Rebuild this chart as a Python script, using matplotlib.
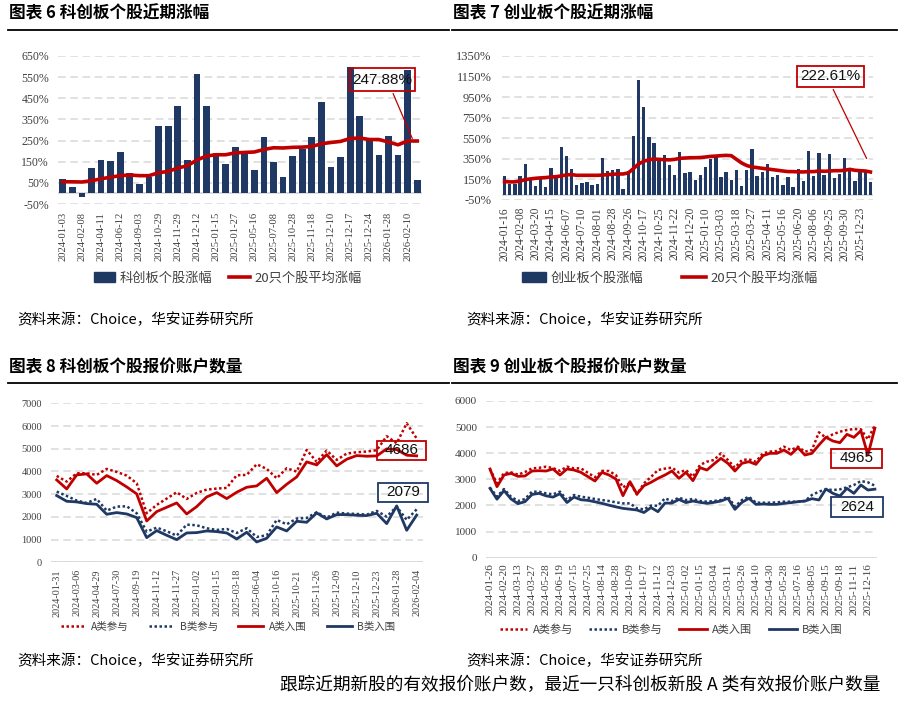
import matplotlib
matplotlib.use('Agg')
import matplotlib.pyplot as plt
from matplotlib.lines import Line2D
from matplotlib.patches import Patch, Rectangle

plt.rcParams['font.family'] = ['Noto Sans CJK SC', 'DejaVu Sans']

W, H = 901, 702
NAVY = '#1F3864'
RED = '#C00000'
GRID = '#D9D9D9'
TXT = '#404040'
SERIF = 'Liberation Serif'
SANS = 'Liberation Sans'

# ---- 图表6 科创板个股近期涨幅 (38 只，每2只一个标签)
kc_ticks = ['2024-01-03', '2024-02-08', '2024-04-11', '2024-06-12', '2024-09-03',
            '2024-10-29', '2024-11-29', '2024-12-12', '2025-01-15', '2025-01-27',
            '2025-05-16', '2025-07-08', '2025-10-28', '2025-11-18', '2025-12-10',
            '2025-12-17', '2025-12-24', '2026-01-28', '2026-02-10']
kc_gain = [66, 30, -15, 121, 159, 155, 196, 98, 44, 80, 317, 317, 413, 158, 566, 415,
           191, 137, 218, 200, 110, 268, 147, 80, 177, 210, 268, 431, 126, 170, 598,
           364, 252, 181, 273, 183, 585, 62]
kc_avg = [55, 55, 54, 60, 69, 77, 84, 87, 84, 84, 98, 104, 120, 131, 158, 177, 183, 183,
          192, 194, 196, 208, 216, 215, 218, 219, 222, 235, 241, 246, 260, 262, 255, 255,
          243, 230, 248, 247.88]

# ---- 图表7 创业板个股近期涨幅 (72 只，每3只一个标签)
cy_ticks = ['2024-01-16', '2024-02-08', '2024-03-20', '2024-04-15', '2024-06-07',
            '2024-07-10', '2024-08-01', '2024-08-28', '2024-09-26', '2024-10-17',
            '2024-10-25', '2024-11-22', '2024-12-20', '2025-01-10', '2025-03-03',
            '2025-03-18', '2025-03-27', '2025-04-11', '2025-05-16', '2025-06-20',
            '2025-08-06', '2025-09-25', '2025-09-30', '2025-12-23']
cy_gain = [181, 103, 103, 187, 297, 142, 84, 174, 77, 265, 174, 465, 377, 255, 97, 113,
           129, 97, 106, 355, 235, 242, 255, 61, 229, 577, 1119, 855, 565, 500, 355, 387,
           287, 190, 413, 210, 219, 148, 197, 271, 345, 368, 171, 226, 148, 245, 84, 239,
           448, 181, 226, 297, 174, 190, 100, 174, 74, 252, 132, 426, 187, 406, 194, 394,
           165, 200, 361, 239, 132, 229, 223, 126]
cy_avg = [129, 126, 126, 135, 148, 155, 161, 165, 168, 174, 177, 184, 194, 197, 190, 190,
          190, 190, 190, 192, 197, 200, 203, 203, 213, 255, 300, 326, 342, 348, 345, 342,
          340, 345, 355, 358, 361, 361, 363, 368, 374, 377, 381, 384, 381, 345, 310, 285,
          271, 265, 258, 252, 245, 239, 232, 226, 226, 223, 223, 226, 226, 232, 229, 232,
          235, 235, 239, 248, 239, 235, 232, 222.61]

# ---- 图表8 科创板个股报价账户数量 (37 期，每2期一个标签)
kc_q_ticks = ['2024-01-31', '2024-03-06', '2024-04-29', '2024-07-30', '2024-09-19',
              '2024-11-12', '2024-11-27', '2025-01-02', '2025-01-15', '2025-03-18',
              '2025-06-04', '2025-10-16', '2025-10-21', '2025-11-26', '2025-12-09',
              '2025-12-10', '2025-12-23', '2026-01-28', '2026-02-04']
kc_a_part = [3803, 3554, 3920, 3920, 3847, 4112, 3979, 3818, 3480, 2158, 2526, 2805, 3084,
             2790, 3054, 3201, 3245, 3275, 3833, 3847, 4317, 4112, 3700, 4141, 3994, 4949,
             4420, 4919, 4508, 4787, 4846, 4875, 4934, 5551, 5242, 6123, 5448]
kc_b_part = [3113, 2922, 2717, 2614, 2790, 2276, 2452, 2467, 2158, 1351, 1527, 1366, 1175,
             1659, 1630, 1498, 1424, 1468, 1292, 1498, 1116, 1189, 1865, 1674, 1924, 1953,
             2203, 1968, 2188, 2144, 2129, 2100, 2261, 2012, 2452, 1865, 2335]
kc_a_in = [3627, 3230, 3847, 3891, 3480, 3818, 3598, 3319, 3010, 1820, 2232, 2423, 2614,
           2129, 2452, 2878, 3069, 2805, 3084, 3304, 3363, 3700, 3069, 3436, 3759, 4420,
           4288, 4743, 4244, 4537, 4699, 4670, 4684, 4993, 4963, 4714, 4686]
kc_b_in = [2937, 2687, 2658, 2584, 2555, 2115, 2188, 2129, 1968, 1087, 1395, 1189, 999,
           1292, 1307, 1380, 1351, 1292, 1028, 1322, 896, 1057, 1557, 1380, 1806, 1762,
           2173, 1909, 2100, 2100, 2070, 2056, 2159, 1703, 2482, 1410, 2079]

# ---- 图表9 创业板个股报价账户数量 (56 期，每2期一个标签)
cy_q_ticks = ['2024-01-26', '2024-02-20', '2024-03-13', '2024-03-27', '2024-05-28',
              '2024-06-19', '2024-07-15', '2024-07-25', '2024-08-14', '2024-08-28',
              '2024-10-09', '2024-10-17', '2024-11-12', '2024-12-03', '2025-01-02',
              '2025-01-15', '2025-03-04', '2025-03-11', '2025-03-26', '2025-04-10',
              '2025-04-30', '2025-05-28', '2025-07-16', '2025-08-05', '2025-09-15',
              '2025-09-18', '2025-11-11', '2025-12-16']
cy_a_part = [3396, 2847, 3240, 3268, 3180, 3280, 3421, 3440, 3485, 3430, 3325, 3485, 3421,
             3421, 3250, 3080, 3325, 3319, 3160, 2690, 2870, 2420, 2847, 3090, 3357, 3410,
             3450, 3260, 3357, 3102, 3549, 3677, 3740, 3996, 3740, 3447, 3740, 3766, 3677,
             3996, 4060, 4085, 4251, 4123, 4251, 4060, 4123, 4800, 4596, 4723, 4826, 4889,
             4928, 4915, 4532, 5081]
cy_b_part = [2681, 2336, 2630, 2336, 2170, 2247, 2528, 2528, 2464, 2426, 2528, 2208, 2400,
             2336, 2298, 2247, 2208, 2170, 2119, 2081, 2081, 1889, 1851, 1992, 1992, 2272,
             2170, 2298, 2208, 2247, 2170, 2145, 2170, 2208, 2336, 1953, 2208, 2336, 2106,
             2106, 2106, 2119, 2145, 2145, 2145, 2170, 2400, 2528, 2617, 2591, 2617, 2694,
             2783, 2936, 2885, 2757]
cy_a_in = [3396, 2719, 3166, 3230, 3115, 3128, 3319, 3332, 3319, 3396, 3166, 3396, 3357,
           3268, 3102, 2936, 3268, 3166, 3013, 2374, 2911, 2438, 2757, 2885, 3038, 3166,
           3319, 3038, 3268, 2949, 3447, 3357, 3587, 3804, 3613, 3319, 3613, 3677, 3575,
           3906, 3996, 3996, 4123, 3957, 4213, 3932, 3996, 4315, 4609, 4468, 4404, 4723,
           4609, 4864, 3932, 4965]
cy_b_in = [2655, 2240, 2570, 2250, 2068, 2145, 2420, 2465, 2370, 2320, 2450, 2112, 2320,
           2220, 2195, 2140, 2081, 2010, 1946, 1889, 1858, 1826, 1730, 1920, 1762, 2090,
           2090, 2230, 2110, 2170, 2119, 2081, 2119, 2170, 2272, 1851, 2119, 2272, 2043,
           2055, 2043, 2043, 2081, 2106, 2145, 2170, 2260, 2210, 2630, 2464, 2362, 2655,
           2464, 2783, 2591, 2624]

fig = plt.figure(figsize=(W / 100, H / 100), dpi=100)


def fx(x):
    return x / W


def fy(y):
    return 1 - y / H


def add_ax(x0, y0, x1, y1):
    return fig.add_axes([fx(x0), fy(y1), (x1 - x0) / W, (y1 - y0) / H])


def style(ax, yticks, ylabels, ysize, ypad, step, xlabels, xsize, xpad):
    for s in ax.spines.values():
        s.set_visible(False)
    ax.set_yticks(yticks)
    ax.set_yticklabels(ylabels, fontfamily=SERIF, fontsize=ysize, color=TXT)
    ax.set_xticks(range(0, step * len(xlabels), step))
    ax.set_xticklabels(xlabels, rotation=90, fontfamily=SERIF, fontsize=xsize, color=TXT)
    ax.tick_params(axis='y', length=0, pad=ypad)
    ax.tick_params(axis='x', length=0, pad=xpad)
    ax.yaxis.grid(True, linestyle=(0, (5, 3)), color=GRID, lw=1.1)
    ax.set_axisbelow(True)
    ax.axhline(0, color=GRID, lw=1.3, zorder=1)


def box(x0, y0, x1, y1, ec, label):
    fig.add_artist(Rectangle((fx(x0), fy(y1)), (x1 - x0) / W, (y1 - y0) / H,
                             transform=fig.transFigure, fill=False, ec=ec, lw=1.3))
    fig.text(fx((x0 + x1) / 2), fy((y0 + y1) / 2), label, ha='center', va='center',
             fontsize=11, family=SANS, color='#111111')


def header(x0, x1, y_title, y_line, title):
    fig.text(fx(x0), fy(y_title), title, fontsize=12, fontweight='bold', va='center')
    fig.add_artist(Line2D([fx(x0 - 1), fx(x1)], [fy(y_line), fy(y_line)],
                          color='black', lw=1.3, transform=fig.transFigure))


# ---------- 图表6
ax6 = add_ax(58, 56, 422, 204)
x6 = range(len(kc_gain))
ax6.bar(x6, kc_gain, width=0.7, color=NAVY, zorder=3)
ax6.plot(x6, kc_avg, color=RED, lw=2.6, zorder=4)
ax6.set_xlim(-0.5, len(kc_gain) - 0.5)
ax6.set_ylim(-50, 650)
yt6 = list(range(-50, 651, 100))
style(ax6, yt6, [f'{v}%' for v in yt6], 8.5, 6.5, 2, kc_ticks, 7.6, 5.5)
ax6.annotate('', xy=(36.6, kc_avg[-1]), xytext=(fx(392), fy(91)),
             textcoords='figure fraction', annotation_clip=False,
             arrowprops=dict(arrowstyle='-', color=RED, lw=0.9))
box(350, 68, 415, 91, RED, '247.88%')
fig.legend([Patch(color=NAVY), Line2D([], [], color=RED, lw=2.6)],
           ['科创板个股涨幅', '20只个股平均涨幅'], loc='center',
           bbox_to_anchor=(fx(228), fy(278)), ncol=2, frameon=False, fontsize=9.5,
           handlelength=1.6, handletextpad=0.3, columnspacing=1.3, labelcolor=TXT)

# ---------- 图表7
ax7 = add_ax(502, 56, 873, 200)
x7 = range(len(cy_gain))
ax7.bar(x7, cy_gain, width=0.65, color=NAVY, zorder=3)
ax7.plot(x7, cy_avg, color=RED, lw=2.6, zorder=4)
ax7.set_xlim(-0.5, len(cy_gain) - 0.5)
ax7.set_ylim(-50, 1350)
yt7 = list(range(-50, 1351, 200))
style(ax7, yt7, [f'{v}%' for v in yt7], 9, 7.5, 3, cy_ticks, 8.3, 5)
ax7.annotate('', xy=(70.5, 329), xytext=(fx(832), fy(87)),
             textcoords='figure fraction', annotation_clip=False,
             arrowprops=dict(arrowstyle='-', color=RED, lw=0.9))
box(797, 66, 864, 87, RED, '222.61%')
fig.legend([Patch(color=NAVY), Line2D([], [], color=RED, lw=2.6)],
           ['创业板个股涨幅', '20只个股平均涨幅'], loc='center',
           bbox_to_anchor=(fx(670), fy(278)), ncol=2, frameon=False, fontsize=9.5,
           handlelength=1.8, handletextpad=0.3, columnspacing=3.0, labelcolor=TXT)

# ---------- 图表8 / 图表9
dot = (0, (1, 1))
line_handles = [Line2D([], [], color=RED, lw=1.8, ls=dot),
                Line2D([], [], color=NAVY, lw=1.8, ls=dot),
                Line2D([], [], color=RED, lw=2),
                Line2D([], [], color=NAVY, lw=2)]
line_labels = ['A类参与', 'B类参与', 'A类入围', 'B类入围']


def draw_counts(ax, a_part, b_part, a_in, b_in):
    xs = range(len(a_in))
    ax.plot(xs, a_part, color=RED, lw=1.8, ls=dot, zorder=3)
    ax.plot(xs, b_part, color=NAVY, lw=1.8, ls=dot, zorder=3)
    ax.plot(xs, a_in, color=RED, lw=2, zorder=4)
    ax.plot(xs, b_in, color=NAVY, lw=2, zorder=4)


ax8 = add_ax(51, 403.3, 423, 562.3)
draw_counts(ax8, kc_a_part, kc_b_part, kc_a_in, kc_b_in)
ax8.set_xlim(-0.57, len(kc_a_in) - 1 + 0.63)
ax8.set_ylim(0, 7000)
yt8 = list(range(0, 7001, 1000))
style(ax8, yt8, [str(v) for v in yt8], 7.5, 6.5, 2, kc_q_ticks, 7.3, 5)
box(377, 441, 426, 460, RED, '4686')
box(378, 483, 428, 502, NAVY, '2079')
fig.legend(line_handles, line_labels, loc='center', bbox_to_anchor=(fx(228), fy(627)),
           ncol=4, frameon=False, fontsize=7.5, handlelength=2.4, handletextpad=0.5,
           columnspacing=2.0, labelcolor=TXT)

ax9 = add_ax(486, 401, 877, 557.7)
draw_counts(ax9, cy_a_part, cy_b_part, cy_a_in, cy_b_in)
ax9.set_xlim(-0.57, len(cy_a_in) - 1 + 0.3)
ax9.set_ylim(0, 6000)
yt9 = list(range(0, 6001, 1000))
style(ax9, yt9, [str(v) for v in yt9], 8, 6.5, 2, cy_q_ticks, 8, 4)
box(831, 449, 882, 468, RED, '4965')
box(831, 497, 883, 517, NAVY, '2624')
fig.legend(line_handles, line_labels, loc='center', bbox_to_anchor=(fx(671), fy(630)),
           ncol=4, frameon=False, fontsize=8, handlelength=2.5, handletextpad=0.45,
           columnspacing=1.5, labelcolor=TXT)

# ---------- titles, sources, footer
header(9, 449, 14, 30, '图表 6 科创板个股近期涨幅')
header(453, 897, 14, 30, '图表 7 创业板个股近期涨幅')
header(9, 449, 367, 383, '图表 8 科创板个股报价账户数量')
header(453, 897, 367, 383, '图表 9 创业板个股报价账户数量')

for sx, sy in [(17, 320), (466, 320), (17, 661), (466, 661)]:
    fig.text(fx(sx), fy(sy), '资料来源：Choice，华安证券研究所', fontsize=10.5, va='center')

fig.text(fx(880), fy(685), '跟踪近期新股的有效报价账户数，最近一只科创板新股 A 类有效报价账户数量',
         fontsize=12.7, ha='right', va='center')

fig.savefig('out.png', dpi=100)
